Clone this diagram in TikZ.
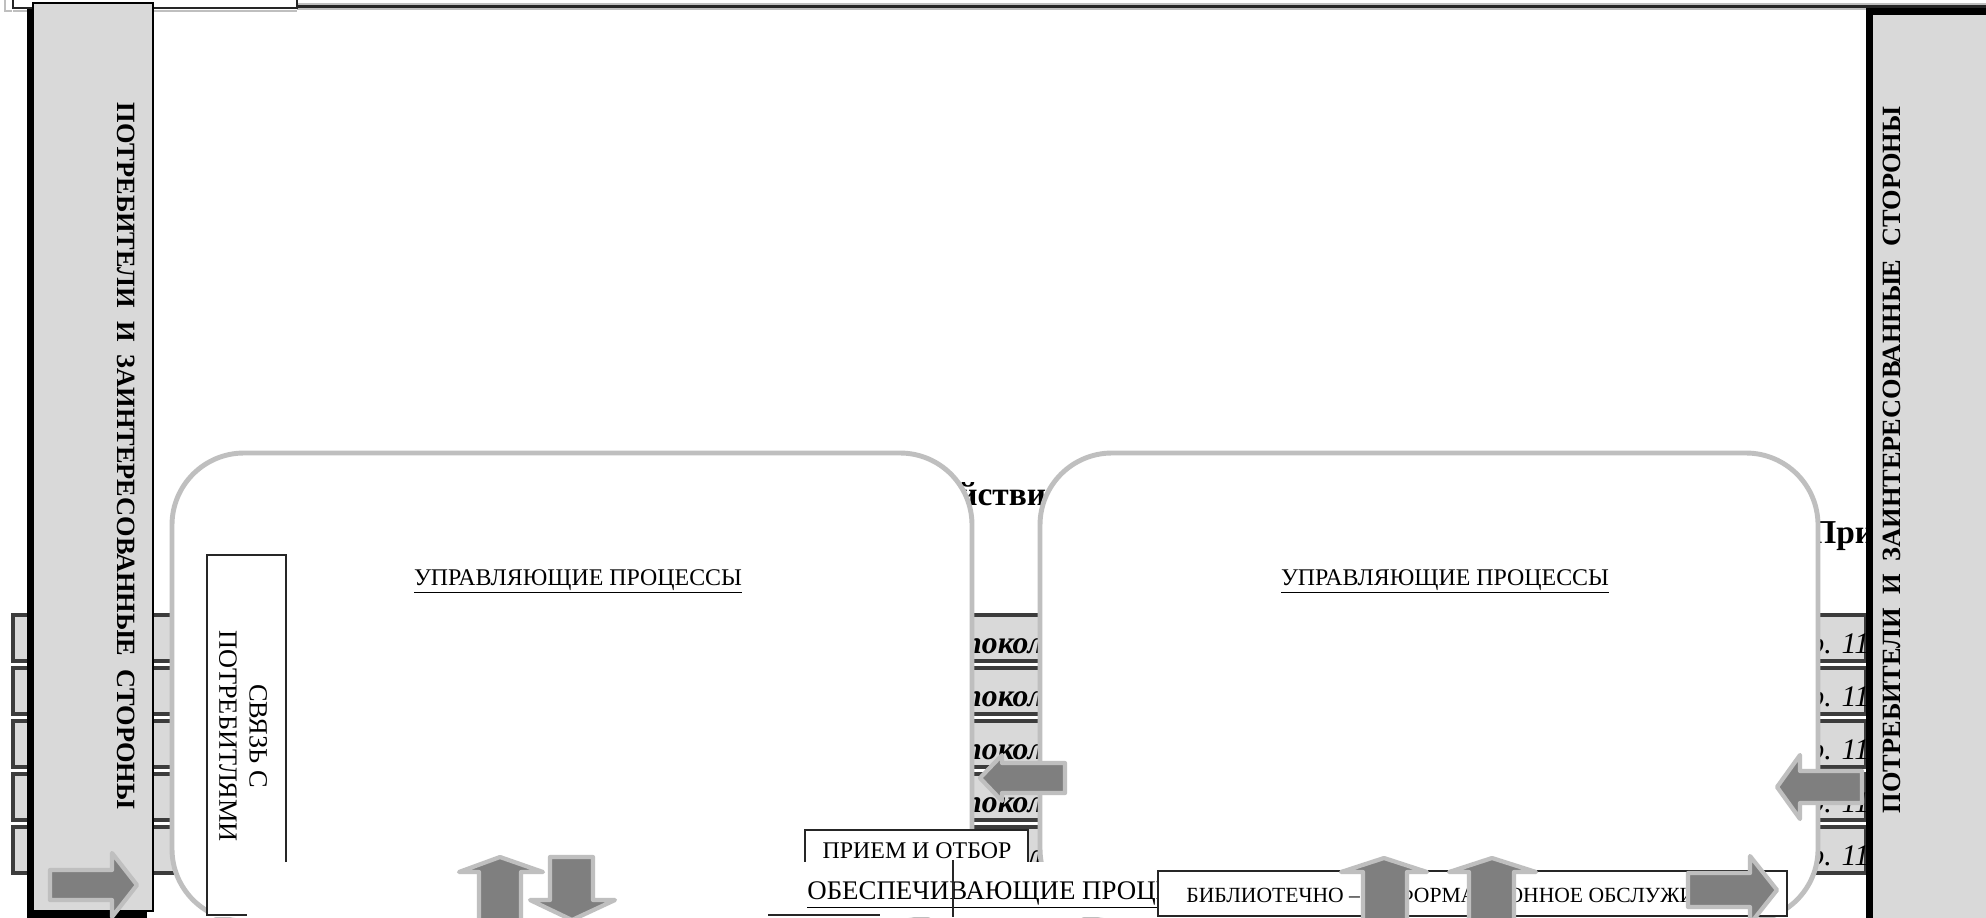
\documentclass[tikz,border=0pt]{standalone}
\usepackage{fontspec}
\setmainfont{Liberation Serif}
\usepackage{xcolor}
\definecolor{panelgrey}{HTML}{BFBFBF}
\definecolor{barfill}{HTML}{D9D9D9}
\definecolor{bardark}{HTML}{3C3C3C}
\definecolor{arrowdark}{HTML}{7F7F7F}
\definecolor{sidegrey}{HTML}{D9D9D9}
\tikzset{
  panel/.style={fill=white, draw=panelgrey, line width=2.8pt, rounded corners=1.44cm},
  bar/.style={fill=barfill, draw=bardark, line width=2.2pt},
  blockarrow/.style={fill=arrowdark, draw=panelgrey, line width=2.4pt, line join=round},
  thinline/.style={draw=black!85, line width=0.7pt},
  proctext/.style={font=\fontsize{13.6}{16}\selectfont},
  supporttext/.style={font=\fontsize{15.3}{17}\selectfont},
  linktext/.style={font=\fontsize{15}{17.2}\selectfont},
  priemtext/.style={font=\fontsize{13.6}{15}\selectfont},
  smalltext/.style={font=\fontsize{12.3}{14}\selectfont},
  sidetext/.style={font=\bfseries\fontsize{15}{18}\selectfont},
  bartext/.style={font=\bfseries\itshape\fontsize{18}{21}\selectfont},
  refnum/.style={font=\itshape\fontsize{17}{20}\selectfont},
  headtext/.style={font=\bfseries\fontsize{19}{22}\selectfont}
}
\begin{document}
\begin{tikzpicture}[x=0.02cm,y=-0.02cm]
\tikzstyle{every node}+=[inner sep=0pt]
\clip (0,0) rectangle (1986,917);
\fill[white] (0,0) rectangle (1986,917);
\draw[panelgrey, line width=1.7pt] (5,0) -- (5,11) -- (12,11);
\draw[panelgrey, line width=4pt] (297,6.5) -- (1986,6.5);
\draw[black!85, line width=1.7pt] (297,6.5) -- (1986,6.5);
\filldraw[fill=white, draw=black!85, line width=0.8pt] (13,-5) rectangle (297,8);
\draw[panelgrey, line width=1.2pt] (13,11) -- (297,11);
\draw[bar] (13,615) rectangle (1866,661);
\draw[bar] (13,668) rectangle (1866,714);
\draw[bar] (13,721) rectangle (1866,767);
\draw[bar] (13,774) rectangle (1866,820);
\draw[bar] (13,827) rectangle (1866,873);
\node[bartext, anchor=base west] (pk0) at (964,653) {покол};
\node[bartext, anchor=base west] (pk1) at (964,706) {покол};
\node[bartext, anchor=base west] (pk2) at (964,759) {покол};
\node[bartext, anchor=base west] (pk3) at (964,812) {покол};
\node[bartext, anchor=base west] (pk4) at (964,865) {покол};
\node[refnum, anchor=base west] (rn0) at (1809,653) {р. 11};
\node[refnum, anchor=base west] (rn1) at (1809,706) {р. 11};
\node[refnum, anchor=base west] (rn2) at (1809,759) {р. 11};
\node[refnum, anchor=base west] (rn3) at (1809,812) {р. 11};
\node[refnum, anchor=base west] (rn4) at (1809,865) {р. 11};
\node[headtext, anchor=base west] (hd1) at (958,505) {йстви};
\node[headtext, anchor=base west] (hd2) at (1810,543) {При};
\draw[panel] (172,453) rectangle (972,921);
\draw[panel] (1040,453) rectangle (1818,921);
\node[proctext, anchor=base] (upr1) at (578,585) {\underline{УПРАВЛЯЮЩИЕ ПРОЦЕССЫ}};
\node[proctext, anchor=base] (upr2) at (1445,585) {\underline{УПРАВЛЯЮЩИЕ ПРОЦЕССЫ}};
\fill[white] (207,555) rectangle (286,917);
\draw[thinline] (286,862) -- (286,555) -- (207,555) -- (207,915) -- (247,915);
\node[linktext, rotate=-90, align=center] (svyaz) at (243,736) {СВЯЗЬ С\\ПОТРЕБИТЛЯМИ};
\filldraw[fill=white, thinline] (805,830) rectangle (1028,880);
\node[priemtext, anchor=base] (priem) at (917,858) {ПРИЕМ И ОТБОР};
\fill[white] (766,862) rectangle (1158,917);
\node[supporttext, anchor=base west] (obesp) at (807,899) {\underline{ОБЕСПЕЧИВАЮЩИЕ ПРОЦЕССЫ}};
\draw[thinline] (953,860) -- (953,917);
\draw[thinline] (768,915) -- (880,915);
\filldraw[fill=white, thinline] (1158,871) rectangle (1787,916);
\node[smalltext, anchor=base west] (bibl) at (1186,902) {БИБЛИОТЕЧНО – ИНФОРМАЦИОННОЕ ОБСЛУЖИВАНИЕ};
\fill[black] (27,9) rectangle (147,925);
\filldraw[fill=sidegrey, draw=black, line width=0.6pt] (33,3) rectangle (153,911);
\node[sidetext, rotate=-90] (consL) at (126,456) {ПОТРЕБИТЕЛИ\ \ И\ \ ЗАИНТЕРЕСОВАННЫЕ\ \ СТОРОНЫ};
\fill[black] (1866,8) rectangle (1990,925);
\fill[sidegrey] (1873,15) rectangle (1990,925);
\node[sidetext, rotate=90] (consR) at (1892,460) {ПОТРЕБИТЕЛИ\ \ И\ \ ЗАИНТЕРЕСОВАННЫЕ\ \ СТОРОНЫ};
\filldraw[blockarrow] (50,870) -- (112,870) -- (112,853) -- (137,885) -- (112,917) -- (112,900) -- (50,900) -- cycle;
\filldraw[blockarrow] (479,930) -- (479,872) -- (459,872) -- (500,857) -- (543,872) -- (521,872) -- (521,930) -- cycle;
\filldraw[blockarrow] (550,857) -- (593,857) -- (593,900) -- (615,900) -- (572,920) -- (530,900) -- (550,900) -- cycle;
\filldraw[blockarrow] (1065,763) -- (1002,763) -- (1002,755) -- (980,778) -- (1002,801) -- (1002,793) -- (1065,793) -- cycle;
\filldraw[blockarrow] (1862,771) -- (1800,771) -- (1800,755) -- (1777,787) -- (1800,819) -- (1800,803) -- (1862,803) -- cycle;
\filldraw[blockarrow] (1688,873) -- (1750,873) -- (1750,856) -- (1777,890) -- (1750,924) -- (1750,907) -- (1688,907) -- cycle;
\filldraw[blockarrow] (1363,930) -- (1363,872) -- (1341,872) -- (1384,858) -- (1427,872) -- (1407,872) -- (1407,930) -- cycle;
\filldraw[blockarrow] (1469,930) -- (1469,872) -- (1449,872) -- (1492,858) -- (1536,872) -- (1514,872) -- (1514,930) -- cycle;
\end{tikzpicture}
\end{document}
